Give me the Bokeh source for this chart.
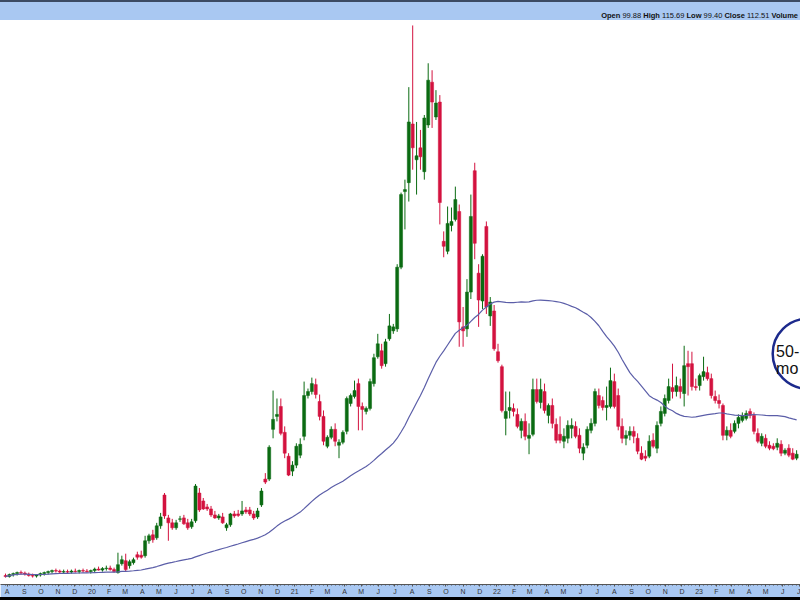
import pandas as pd
from bokeh.plotting import figure
from bokeh.models import ColumnDataSource, FixedTicker, Spacer, Div
from bokeh.layouts import column
from bokeh.embed import file_html
from bokeh.resources import INLINE
from bokeh.core.properties import value

# ---------------- data (weekly candles, first week starting 2019-07-29) ----------------
first_week = "2019-07-29"

opens = [
    13.25, 12.38, 14.13, 15.0, 15.88, 15.44, 14.56, 13.25, 12.81, 13.69,
    15.0, 15.88, 16.75, 17.63, 17.19, 16.31, 16.75, 16.31, 17.19, 16.75,
    17.63, 17.19, 16.75, 17.63, 18.94, 18.06, 19.38, 19.81, 18.5, 15.88,
    23.75, 26.38, 22.0, 24.63, 31.63, 31.19, 30.75, 43.88, 49.13, 46.5,
    57.0, 84.13, 64.0, 59.63, 55.25, 62.69, 64.0, 59.63, 56.13, 61.38,
    85.88, 78.88, 73.63, 71.88, 66.63, 64.0, 64.88, 55.25, 57.88, 67.5,
    67.5, 67.5, 71.0, 71.0, 67.5, 64.88, 75.38, 98.13, 98.13, 141.88,
    153.25, 162.0, 139.25, 118.25, 105.13, 110.38, 119.13, 135.75, 171.63, 175.13,
    181.25, 166.38, 153.25, 127.0, 134.88, 141.88, 127.88, 130.5, 140.13, 164.63,
    170.75, 182.13, 162.0, 157.63, 160.25, 182.13, 205.75, 211.0, 199.63, 221.5,
    228.5, 230.25, 284.5, 351.0, 358.88, 410.5, 379.0, 389.5, 368.5, 409.63,
    447.25, 416.63, 429.75, 307.25, 298.5, 321.25, 326.5, 333.5, 232.0, 230.25,
    262.63, 369.38, 279.25, 254.75, 320.38, 241.63, 246.0, 210.13, 197.0, 151.5,
    158.5, 160.25, 155.0, 141.0, 148.88, 134.0, 137.5, 176.88, 165.5, 175.13,
    154.13, 162.88, 146.25, 137.5, 131.38, 134.0, 142.75, 144.5, 136.63, 120.88,
    127.88, 141.0, 147.13, 171.63, 167.25, 161.13, 162.0, 183.88, 171.63, 144.5,
    134.0, 136.63, 140.13, 134.0, 120.88, 118.25, 118.25, 132.25, 125.25, 147.13,
    155.88, 167.25, 178.63, 175.13, 179.5, 173.38, 199.63, 199.63, 179.5, 180.38,
    188.25, 191.75, 186.5, 170.75, 167.25, 162.88, 136.63, 141.0, 140.13, 147.13,
    149.75, 151.5, 157.63, 154.13, 138.38, 129.63, 134.0, 127.88, 127.0, 126.13,
    128.75, 120.88, 125.25, 120.88, 116.5,
]

highs = [
    15.0, 15.0, 15.88, 16.75, 17.63, 16.75, 15.88, 15.0, 14.13, 15.88,
    16.75, 17.63, 18.5, 19.38, 18.5, 18.5, 18.5, 18.5, 19.38, 18.5,
    19.38, 18.94, 18.5, 20.25, 21.13, 20.69, 22.0, 22.0, 20.25, 33.38,
    30.75, 32.5, 27.25, 29.0, 34.25, 35.13, 48.25, 50.0, 53.5, 59.63,
    68.38, 85.88, 66.63, 63.13, 62.25, 65.75, 66.63, 63.13, 63.13, 93.75,
    90.25, 81.5, 76.25, 74.5, 70.13, 67.5, 68.38, 59.63, 68.38, 70.13,
    71.0, 78.88, 73.63, 73.63, 70.13, 72.75, 90.25, 103.38, 127.88, 176.0,
    169.0, 169.0, 144.5, 120.88, 113.88, 129.63, 134.0, 183.88, 177.75, 187.38,
    186.5, 172.5, 158.5, 136.63, 144.5, 147.13, 133.13, 141.0, 170.75, 173.38,
    184.75, 186.5, 165.5, 162.0, 186.5, 208.38, 225.88, 217.13, 221.5, 243.38,
    234.63, 287.13, 350.13, 361.5, 442.88, 497.13, 412.25, 405.25, 418.38, 463.88,
    457.75, 440.25, 435.88, 316.0, 337.88, 337.0, 355.38, 339.63, 249.5, 274.0,
    348.38, 376.38, 287.13, 295.88, 324.75, 258.25, 251.25, 217.13, 198.75, 175.13,
    175.13, 164.63, 160.25, 151.5, 155.88, 147.13, 186.5, 186.5, 186.5, 182.13,
    164.63, 169.0, 151.5, 153.25, 142.75, 149.75, 151.5, 148.88, 142.75, 129.63,
    144.5, 151.5, 177.75, 177.75, 170.75, 179.5, 196.13, 190.88, 177.75, 151.5,
    141.0, 144.5, 144.5, 138.38, 127.0, 123.5, 136.63, 138.38, 148.88, 162.0,
    172.5, 186.5, 199.63, 188.25, 186.5, 215.38, 211.0, 210.13, 186.5, 190.88,
    205.75, 197.0, 190.88, 176.0, 172.5, 164.63, 144.5, 147.13, 149.75, 155.0,
    156.75, 158.5, 160.25, 156.75, 142.75, 138.38, 137.5, 131.38, 129.63, 134.0,
    132.25, 125.25, 128.75, 125.25, 123.5,
]

lows = [
    11.5, 11.5, 12.38, 13.25, 14.13, 13.25, 12.38, 11.5, 11.5, 12.38,
    13.25, 14.13, 15.0, 15.88, 15.0, 15.0, 15.0, 15.0, 15.88, 15.0,
    15.88, 15.88, 15.0, 15.88, 17.63, 16.75, 17.63, 17.63, 15.88, 15.0,
    22.0, 16.75, 19.38, 22.88, 27.25, 28.13, 29.0, 41.25, 42.13, 44.75,
    54.38, 63.13, 43.88, 53.5, 53.5, 60.5, 57.88, 53.5, 54.38, 59.63,
    69.25, 71.0, 70.13, 64.88, 63.13, 62.25, 58.75, 52.63, 56.13, 64.0,
    64.88, 65.75, 67.5, 65.75, 62.25, 63.13, 73.63, 93.75, 96.38, 134.0,
    148.88, 136.63, 116.5, 100.75, 100.75, 107.75, 116.5, 132.25, 169.0, 172.5,
    169.0, 149.75, 127.88, 125.25, 133.13, 127.0, 116.5, 128.75, 137.5, 162.0,
    169.0, 141.0, 141.0, 155.0, 158.5, 179.5, 204.0, 195.25, 197.0, 219.75,
    225.88, 227.63, 282.75, 317.75, 342.25, 370.25, 348.38, 370.25, 361.5, 407.0,
    407.0, 414.0, 322.13, 293.25, 295.88, 316.0, 324.75, 214.5, 214.5, 223.25,
    256.5, 291.5, 232.0, 247.75, 243.38, 232.88, 211.0, 200.5, 156.75, 136.63,
    151.5, 153.25, 142.75, 134.0, 132.25, 120.0, 135.75, 164.63, 160.25, 155.88,
    147.13, 142.75, 129.63, 129.63, 125.25, 129.63, 134.0, 134.0, 120.88, 114.75,
    125.25, 138.38, 144.5, 160.25, 158.5, 149.75, 160.25, 160.25, 141.0, 129.63,
    127.88, 132.25, 129.63, 120.0, 114.75, 113.88, 116.5, 125.25, 120.88, 144.5,
    153.25, 164.63, 169.0, 170.75, 169.0, 162.0, 171.63, 176.0, 176.0, 176.0,
    184.75, 184.75, 169.0, 164.63, 160.25, 132.25, 132.25, 134.0, 138.38, 142.75,
    148.0, 149.75, 151.5, 137.5, 129.63, 127.0, 125.25, 123.5, 123.5, 123.5,
    118.25, 119.13, 117.38, 114.75, 114.75,
]

closes = [
    12.38, 14.13, 15.0, 15.88, 15.44, 14.56, 13.25, 12.81, 13.69, 15.0,
    15.88, 16.75, 17.63, 17.19, 16.31, 16.75, 16.31, 17.19, 16.75, 17.63,
    17.19, 16.75, 17.63, 18.94, 18.06, 19.38, 19.81, 18.5, 16.75, 22.88,
    27.25, 18.5, 25.5, 27.25, 29.44, 29.44, 43.88, 48.25, 44.75, 57.0,
    64.88, 65.75, 59.63, 55.25, 59.63, 63.13, 58.75, 55.25, 60.5, 92.0,
    71.0, 71.88, 71.88, 66.63, 64.0, 65.75, 59.63, 57.88, 67.5, 65.75,
    66.19, 70.13, 69.25, 67.5, 64.0, 70.13, 87.63, 95.5, 126.13, 150.63,
    155.0, 138.38, 120.88, 101.63, 110.38, 127.0, 128.75, 171.63, 175.13, 182.13,
    172.5, 153.25, 131.38, 134.88, 141.88, 131.38, 130.5, 139.25, 169.0, 171.63,
    176.0, 162.0, 159.38, 160.25, 183.88, 204.88, 217.13, 197.88, 218.88, 232.88,
    232.0, 284.5, 348.38, 352.75, 412.25, 389.5, 382.5, 381.63, 415.75, 449.0,
    429.75, 428.88, 341.38, 302.88, 323.0, 324.75, 344.0, 236.38, 228.5, 262.63,
    329.13, 305.5, 255.63, 294.13, 249.5, 253.88, 212.75, 202.25, 158.5, 157.63,
    161.13, 157.63, 144.5, 148.88, 135.75, 136.63, 176.88, 166.38, 176.88, 158.5,
    162.88, 147.13, 132.25, 132.25, 135.75, 145.38, 145.38, 135.75, 125.25, 126.13,
    141.88, 147.13, 175.13, 162.88, 161.13, 162.88, 184.75, 162.0, 144.5, 134.0,
    136.63, 140.13, 135.75, 122.63, 115.63, 116.5, 131.38, 127.0, 145.38, 157.63,
    169.0, 179.5, 175.13, 180.38, 175.13, 197.88, 197.0, 179.5, 178.63, 189.13,
    192.63, 186.5, 171.63, 167.25, 164.63, 136.63, 141.0, 135.75, 147.13, 152.38,
    154.13, 155.88, 154.13, 140.13, 131.38, 135.75, 127.0, 125.25, 124.81, 129.63,
    120.88, 123.5, 119.13, 115.63, 120.0,
]

ma_window = 50
month_letters = ["J", "F", "M", "A", "M", "J", "J", "A", "S", "O", "N", "D"]

header_names = ["Open", "High", "Low", "Close", "Volume"]
header_values = ["99.88", "115.69", "99.40", "112.51", ""]

callout_lines = ["50-", "mo"]

# ---------------- styling ----------------
GREEN = "#0b6b12"
RED = "#d3123f"
MA_COLOR = "#5b5ea8"
STRIP = "#a9c8f2"
W = 800

weeks = pd.date_range(first_week, periods=len(closes), freq="7D")
df = pd.DataFrame({"date": weeks, "open": opens, "high": highs, "low": lows, "close": closes})
df["top"] = df[["open", "close"]].max(axis=1)
df["bottom"] = df[["open", "close"]].min(axis=1)
df["color"] = [GREEN if c >= o else RED for o, c in zip(opens, closes)]
df["ma"] = df["close"].rolling(ma_window, min_periods=1).mean()
src = ColumnDataSource(df)

fig = figure(
    width=W, height=577, x_axis_type="datetime",
    x_range=(pd.Timestamp("2019-07-20"), pd.Timestamp("2023-07-03")),
    y_range=(5.4, 501.5),
    toolbar_location=None, output_backend="svg", y_axis_location=None,
    min_border_left=0, min_border_right=0, min_border_top=0, min_border_bottom=10,
    border_fill_color=STRIP, background_fill_color="white", outline_line_color=None,
)
fig.xgrid.visible = False
fig.ygrid.visible = False

day_ms = 86400000
fig.segment(x0="date", y0="low", x1="date", y1="high", color="color", line_width=1, source=src)
fig.vbar(x="date", width=5.5 * day_ms, top="top", bottom="bottom",
         fill_color="color", line_color="color", line_width=0.5, source=src)
fig.line(x="date", y="ma", color=MA_COLOR, line_width=1.2, source=src)

# ---------------- x axis: month letters, two-digit years ----------------
month_starts = pd.date_range("2019-08-01", "2023-07-01", freq="MS")
tick_ms = [int(d.value // 10**6) for d in month_starts]
week_ms = [int(d.value // 10**6) for d in weeks]
ax = fig.xaxis[0]
ax.ticker = FixedTicker(ticks=tick_ms, minor_ticks=week_ms)
ax.major_label_overrides = {
    t: (f"{d.year % 100:02d}" if d.month == 1 else month_letters[d.month - 1])
    for t, d in zip(tick_ms, month_starts)
}
ax.major_label_text_font = "Liberation Sans"
ax.major_label_text_font_size = "7px"
ax.major_label_text_color = "#333333"
ax.major_label_standoff = 1
ax.major_tick_in = 0
ax.major_tick_out = 2
ax.minor_tick_in = 0
ax.minor_tick_out = 1
ax.major_tick_line_color = "#555555"
ax.minor_tick_line_color = "#555555"
ax.axis_line_color = "#555555"

# ---------------- call-out circle ----------------
fig.circle(x=[pd.Timestamp("2023-07-16")], y=[208.4], radius=35, radius_units="screen",
           fill_color="white", line_color="#1c2a8c", line_width=2.5)
fig.text(x=[pd.Timestamp("2023-05-20")] * 2, y=[211.0, 195.25], text=callout_lines,
         text_font=value("Liberation Sans"), text_font_size="16px", text_color="#111111",
         text_baseline="alphabetic", text_align="left")

# ---------------- header quote line ----------------
header_html = " ".join(
    f"<b>{n}</b>" + (f" {v}" if v else "") for n, v in zip(header_names, header_values)
)
header = Div(
    text=header_html, width=W, height=18, margin=0,
    styles={
        "background-color": STRIP, "text-align": "right", "font-family": "Liberation Sans",
        "font-size": "7.5px", "color": "#111111", "line-height": "9px",
        "padding-top": "9px", "padding-right": "2px", "box-sizing": "border-box",
        "white-space": "nowrap", "overflow": "hidden",
    },
)

top_bar = Spacer(width=W, height=2, margin=0, styles={"background-color": "#3c4b63"})
bottom_bar = Spacer(width=W, height=3, margin=0, styles={"background-color": "#000000"})
p = column(top_bar, header, fig, bottom_bar, spacing=0, margin=0)

open("out.html", "w").write(file_html(p, INLINE))
